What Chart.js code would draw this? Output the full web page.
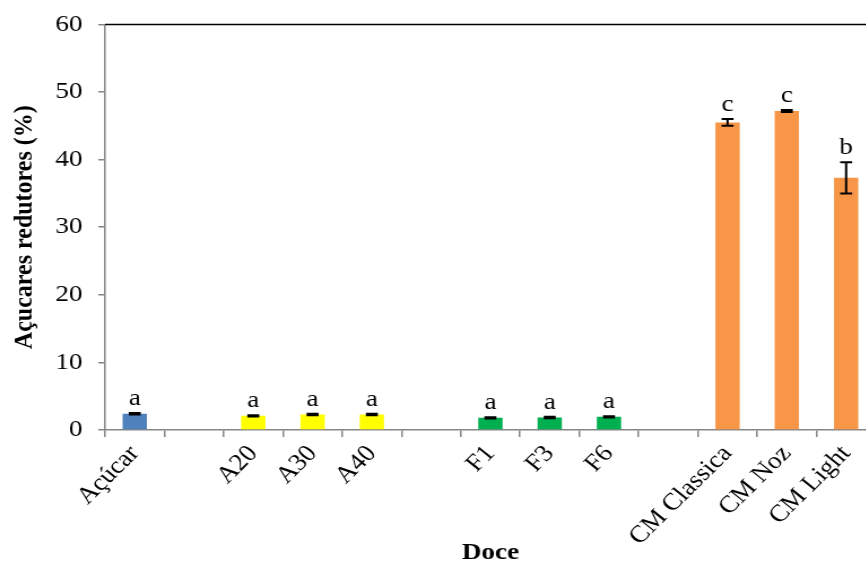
<!DOCTYPE html>
<html>
<head>
<meta charset="utf-8">
<script src="https://cdn.jsdelivr.net/npm/chart.js@4"></script>
<style>
  html, body { margin: 0; padding: 0; background: #fff; overflow: hidden; }
  #wrap { width: 866px; height: 563px; overflow: hidden; }
  /* o gráfico original está esticado na horizontal */
  #chart { transform: translateY(-4px) scaleX(1.13); transform-origin: 0 0; }
</style>
</head>
<body>
<div id="wrap"><canvas id="chart" width="775" height="567"></canvas></div>
<script>
const categories = ["Açúcar", "", "A20", "A30", "A40", "", "F1", "F3", "F6", "", "CM Classica", "CM Noz", "CM Light"];
const values = [2.4, null, 2.1, 2.3, 2.3, null, 1.8, 1.85, 1.95, null, 45.5, 47.2, 37.3];
const errors = [0.1, null, 0.1, 0.1, 0.1, null, 0.1, 0.1, 0.1, null, 0.5, 0.15, 2.3];
const letters = ["a", "", "a", "a", "a", "", "a", "a", "a", "", "c", "c", "b"];
const colors = ["#4f81bd", null, "#ffff00", "#ffff00", "#ffff00", null, "#00b050", "#00b050", "#00b050", null, "#f79646", "#f79646", "#f79646"];

const serif = "'Liberation Serif', 'Times New Roman', serif";

// barras de erro, letras e linha superior
const errorBars = {
    id: "errorBars",
    afterDatasetsDraw(chart) {
        const ctx = chart.ctx;
        const y = chart.scales.y;
        const area = chart.chartArea;
        ctx.save();
        ctx.strokeStyle = "#000";
        ctx.beginPath();
        ctx.lineWidth = 1.5;
        ctx.moveTo(area.left, area.top);
        ctx.lineTo(area.right, area.top);
        ctx.stroke();

        chart.getDatasetMeta(0).data.forEach((bar, i) => {
            if (values[i] == null) return;
            const top = y.getPixelForValue(values[i] + errors[i]);
            const bot = y.getPixelForValue(values[i] - errors[i]);
            ctx.lineWidth = 2;
            ctx.beginPath();
            ctx.moveTo(bar.x, top); ctx.lineTo(bar.x, bot);
            ctx.moveTo(bar.x - 5.3, top); ctx.lineTo(bar.x + 5.3, top);
            ctx.moveTo(bar.x - 5.3, bot); ctx.lineTo(bar.x + 5.3, bot);
            ctx.stroke();
            ctx.fillStyle = "#000";
            ctx.font = "24px " + serif;
            ctx.textAlign = "center";
            ctx.textBaseline = "alphabetic";
            ctx.fillText(letters[i], bar.x, top - 8);
        });
        ctx.restore();
    }
};

new Chart(document.getElementById("chart"), {
    type: "bar",
    data: {
        labels: categories,
        datasets: [{
            data: values,
            backgroundColor: colors,
            categoryPercentage: 1,
            barPercentage: 0.41
        }]
    },
    options: {
        responsive: false,
        animation: false,
        layout: { padding: { top: 10, right: 0, left: 0, bottom: 0 } },
        plugins: {
            legend: { display: false },
            tooltip: { enabled: false }
        },
        scales: {
            x: {
                afterFit(axis) { axis.height = 133; },
                grid: { drawOnChartArea: false, color: "#868686", tickLength: 7, lineWidth: 1.5 },
                border: { color: "#868686", width: 1.5 },
                ticks: { color: "#000", font: { family: serif, size: 24 }, minRotation: 48, maxRotation: 48, autoSkip: false, padding: 3 },
                title: { display: true, text: "Doce", color: "#000", font: { family: serif, size: 24, weight: "bold", lineHeight: 1 }, padding: { top: 0, bottom: -2 } }
            },
            y: {
                min: 0,
                max: 60,
                afterFit(axis) { axis.width = 93; },
                grid: { drawOnChartArea: false, color: "#868686", tickLength: 6, lineWidth: 1.5 },
                border: { color: "#868686", width: 1.5 },
                ticks: { stepSize: 10, color: "#000", font: { family: serif, size: 24 }, padding: 14 },
                title: { display: true, text: "Açucares redutores (%)", color: "#000", font: { family: serif, size: 24, weight: "bold", lineHeight: 1 }, padding: { top: 10, bottom: 0 } }
            }
        }
    },
    plugins: [errorBars]
});
</script>
</body>
</html>
